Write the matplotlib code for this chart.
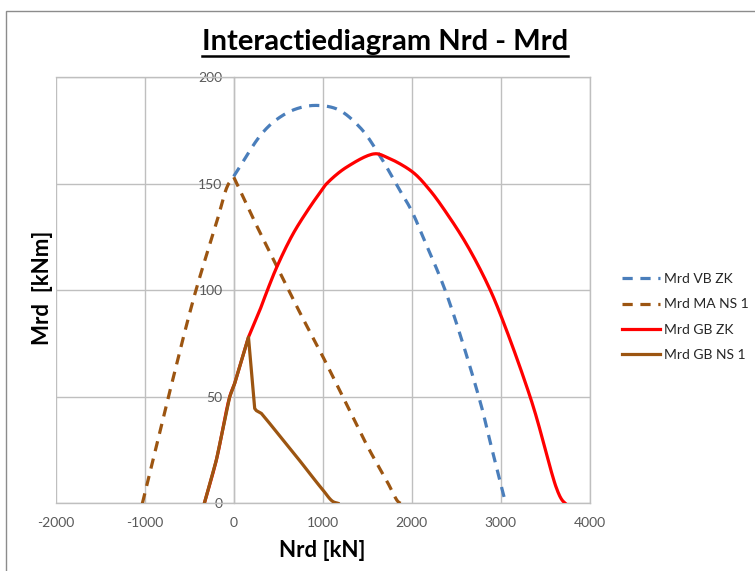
import numpy as np
import matplotlib
matplotlib.use("Agg")
import matplotlib.pyplot as plt
from matplotlib.lines import Line2D
from matplotlib.patches import Rectangle

# Interaction curves: axial force Nrd [kN] vs. bending moment Mrd [kNm]
vb_zk_n = [0, 329, 517, 704, 910, 1154, 1416, 1640, 1846, 1997, 2127, 2390, 2764, 2876, 2989, 3050]
vb_zk_m = [153.5, 174.2, 181.2, 185.2, 186.8, 185.2, 176.6, 163.3, 148.4, 137.5, 125.0, 98.4, 48.5, 29.7, 10.9, 1.0]

ma_ns1_n = [-1026, -733, -438, -195, -64, 0, 250, 500, 750, 1000, 1250, 1500, 1734, 1846, 1875]
ma_ns1_m = [0, 50, 98, 131.5, 149.5, 153.2, 131, 110, 89, 69, 48, 27, 9.4, 0.8, 0]

gb_zk_n = [-330, -195, -45, 11, 166, 292, 369, 485, 668, 856, 987, 1043, 1268, 1587, 1718,
           2002, 2200, 2396, 2615, 2839, 2994, 3350, 3631, 3690, 3725]
gb_zk_m = [0, 20.3, 50, 56.3, 78, 90.5, 99, 111, 126.6, 139.1, 146.9, 150, 157.8, 164.1, 162.5,
           155.8, 147.2, 136.0, 121.7, 104.0, 89.0, 47.5, 6.6, 1.5, 0]

gb_ns1_n = [-330, -195, -45, 11, 166, 236, 255, 311, 404, 742, 1003, 1116, 1172]
gb_ns1_m = [0, 20.3, 50, 56.3, 78, 44.5, 43.5, 42.2, 37.5, 20.0, 6.2, 0.8, 0]

# indices where a curve has a sharp corner (no smoothing across them)
vb_zk_corners = []
ma_ns1_corners = [5]
gb_zk_corners = [3, 4, 10]
gb_ns1_corners = [1, 2, 3, 4, 5, 6, 7, 8, 9]

x_ticks = [-2000, -1000, 0, 1000, 2000, 3000, 4000]
y_ticks = [0, 50, 100, 150, 200]

title = "Interactiediagram Nrd - Mrd"
x_label = "Nrd [kN]"
y_label = "Mrd  [kNm]"

BLUE = "#4a7ebb"
BROWN = "#9c5511"
RED = "#ff0000"
GRID = "#bfbfbf"
TICK_TXT = "#595959"
FONT = "Lato"

plt.rcParams["font.family"] = [FONT, "DejaVu Sans"]
plt.rcParams["axes.unicode_minus"] = False


def smooth_line(xs, ys, corners, sx=6000.0, sy=150.0, steps=16):
    """Centripetal Catmull-Rom spline through the points, like a smoothed
    spreadsheet line; pieces are split at the given corner indices."""
    xs = np.asarray(xs, float)
    ys = np.asarray(ys, float)
    cuts = sorted(set([0, len(xs) - 1] + list(corners)))
    out_x, out_y = [xs[0]], [ys[0]]
    for a, b in zip(cuts[:-1], cuts[1:]):
        px = xs[a:b + 1] / sx
        py = ys[a:b + 1] / sy
        P = np.column_stack([px, py])
        if len(P) == 2:
            out_x.append(xs[b]); out_y.append(ys[b])
            continue
        P = np.vstack([2 * P[0] - P[1], P, 2 * P[-1] - P[-2]])
        for i in range(1, len(P) - 2):
            p0, p1, p2, p3 = P[i - 1], P[i], P[i + 1], P[i + 2]
            t0 = 0.0
            t1 = t0 + np.linalg.norm(p1 - p0) ** 0.5 + 1e-9
            t2 = t1 + np.linalg.norm(p2 - p1) ** 0.5 + 1e-9
            t3 = t2 + np.linalg.norm(p3 - p2) ** 0.5 + 1e-9
            for t in np.linspace(t1, t2, steps)[1:]:
                A1 = (t1 - t) / (t1 - t0) * p0 + (t - t0) / (t1 - t0) * p1
                A2 = (t2 - t) / (t2 - t1) * p1 + (t - t1) / (t2 - t1) * p2
                A3 = (t3 - t) / (t3 - t2) * p2 + (t - t2) / (t3 - t2) * p3
                B1 = (t2 - t) / (t2 - t0) * A1 + (t - t0) / (t2 - t0) * A2
                B2 = (t3 - t) / (t3 - t1) * A2 + (t - t1) / (t3 - t1) * A3
                C = (t2 - t) / (t2 - t1) * B1 + (t - t1) / (t2 - t1) * B2
                out_x.append(C[0] * sx); out_y.append(C[1] * sy)
    return np.array(out_x), np.array(out_y)


fig = plt.figure(figsize=(7.55, 5.71), dpi=100)
fig.patch.set_facecolor("white")

# outer chart frame
fig.add_artist(Rectangle((6 / 755, -0.05), 1.2, 1 - 11 / 571 + 0.05,
                         transform=fig.transFigure, fill=False,
                         edgecolor="#8c8c8c", linewidth=1.0))

ax = fig.add_axes([55.7 / 755, 1 - 503.3 / 571, (589.7 - 55.7) / 755, (503.3 - 77.3) / 571])

lw = 2.3
dash = (3.2, 2.4)
series = [
    (vb_zk_n, vb_zk_m, vb_zk_corners, dict(color=BLUE, dashes=dash, label="Mrd VB ZK", zorder=3)),
    (ma_ns1_n, ma_ns1_m, ma_ns1_corners, dict(color=BROWN, dashes=dash, label="Mrd MA NS 1", zorder=3)),
    (gb_zk_n, gb_zk_m, gb_zk_corners, dict(color=RED, label="Mrd GB ZK", zorder=4)),
    (gb_ns1_n, gb_ns1_m, gb_ns1_corners, dict(color=BROWN, label="Mrd GB NS 1", zorder=5)),
]
for xs, ys, cn, kw in series:
    sx_, sy_ = smooth_line(xs, ys, cn)
    ax.plot(sx_, np.clip(sy_, 0, None), lw=lw, solid_joinstyle="round", **kw)

ax.set_xlim(x_ticks[0], x_ticks[-1])
ax.set_ylim(y_ticks[0], y_ticks[-1])
ax.set_xticks(x_ticks)
ax.set_yticks(y_ticks)
ax.grid(True, color=GRID, linewidth=1.0)
ax.set_axisbelow(True)

for side in ("top", "right", "bottom"):
    ax.spines[side].set_color(GRID)
    ax.spines[side].set_linewidth(1.0)
ax.spines["left"].set_position(("data", 0))
ax.spines["left"].set_color(GRID)
ax.spines["left"].set_linewidth(1.0)

ax.tick_params(axis="both", length=0, labelsize=10, labelcolor=TICK_TXT)
ax.tick_params(axis="x", pad=10)
ax.tick_params(axis="y", pad=8)

ax.set_xlabel(x_label, fontsize=16, fontweight="bold", labelpad=8)
ax.set_ylabel(y_label, fontsize=16, fontweight="bold")
ax.yaxis.set_label_coords(53 / 755, 1 - 288 / 571, transform=fig.transFigure)

leg = ax.legend(loc="center left", bbox_to_anchor=(622 / 755, 1 - 317 / 571),
                bbox_transform=fig.transFigure, frameon=False, fontsize=10,
                handlelength=2.7, handletextpad=0.3, labelspacing=0.95,
                borderaxespad=0, borderpad=0)
for t in leg.get_texts():
    t.set_color("#262626")

ttl = fig.text(385 / 755, 1 - 42 / 571, title, ha="center", va="center",
               fontsize=21, fontweight="bold", color="black")

# underline beneath the title
fig.canvas.draw()
bb = ttl.get_window_extent(renderer=fig.canvas.get_renderer())
y_ul = (bb.y0 - 1) / fig.bbox.height
fig.add_artist(Line2D([bb.x0 / fig.bbox.width, bb.x1 / fig.bbox.width], [y_ul, y_ul],
                      transform=fig.transFigure, color="black", linewidth=1.8))

fig.savefig("out.png", dpi=100, facecolor="white")
